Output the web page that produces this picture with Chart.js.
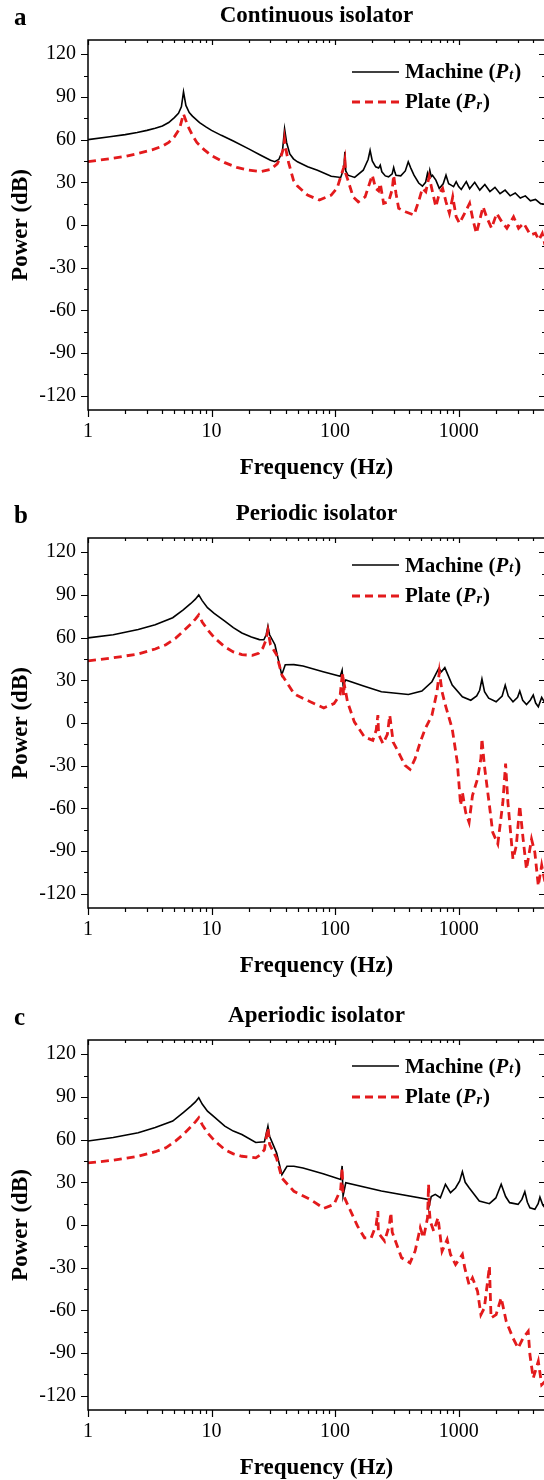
<!DOCTYPE html>
<html>
<head>
<meta charset="utf-8">
<script src="https://cdn.jsdelivr.net/npm/chart.js@4.4.1/dist/chart.umd.min.js"></script>
<style>
  body { margin: 0; background: #fff; width: 544px; height: 1480px; overflow: hidden; position: relative; font-family: "Liberation Serif", serif; }
  .panel { position: absolute; left: 0; width: 544px; height: 500px; overflow: hidden; }
  .panel canvas { position: absolute; left: 0; top: 0; }
  .letter { position: absolute; left: 14px; top: 4px; font: bold 25px/25px "Liberation Serif", serif; color: #000; }
  .key { position: absolute; left: 352px; height: 30px; display: flex; align-items: center; font: bold 21px "Liberation Serif", serif; color: #000; white-space: nowrap; }
  .key svg { margin-right: 6px; }
  .key i { font-style: italic; }
  .key sub { font-size: 14px; font-style: italic; position: relative; top: 3px; vertical-align: baseline; line-height: 0; margin-left: 1px; margin-right: 1px; }
</style>
</head>
<body>
<div class="panel" style="top:0px">
  <canvas id="chartA" width="552" height="498"></canvas>
  <div class="letter">a</div>
  <div class="key" style="top:56.5px"><svg width="47" height="30"><line x1="0" y1="15" x2="47" y2="15" stroke="#000" stroke-width="1.6"/></svg>Machine (<i>P</i><sub>t</sub>)</div>
  <div class="key" style="top:86.5px"><svg width="47" height="30"><line x1="0" y1="15" x2="47" y2="15" stroke="#e31a1c" stroke-width="2.8" stroke-dasharray="8 5"/></svg>Plate (<i>P</i><sub>r</sub>)</div>
</div>
<div class="panel" style="top:498px">
  <canvas id="chartB" width="552" height="498"></canvas>
  <div class="letter">b</div>
  <div class="key" style="top:52px"><svg width="47" height="30"><line x1="0" y1="15" x2="47" y2="15" stroke="#000" stroke-width="1.6"/></svg>Machine (<i>P</i><sub>t</sub>)</div>
  <div class="key" style="top:82.5px"><svg width="47" height="30"><line x1="0" y1="15" x2="47" y2="15" stroke="#e31a1c" stroke-width="2.8" stroke-dasharray="8 5"/></svg>Plate (<i>P</i><sub>r</sub>)</div>
</div>
<div class="panel" style="top:1000px">
  <canvas id="chartC" width="552" height="498"></canvas>
  <div class="letter">c</div>
  <div class="key" style="top:51px"><svg width="47" height="30"><line x1="0" y1="15" x2="47" y2="15" stroke="#000" stroke-width="1.6"/></svg>Machine (<i>P</i><sub>t</sub>)</div>
  <div class="key" style="top:81.5px"><svg width="47" height="30"><line x1="0" y1="15" x2="47" y2="15" stroke="#e31a1c" stroke-width="2.8" stroke-dasharray="8 5"/></svg>Plate (<i>P</i><sub>r</sub>)</div>
</div>
<script>
// axis ticks
const xTickValues = [1, 10, 100, 1000];
const yTickValues = [-120, -90, -60, -30, 0, 30, 60, 90, 120];

// a) continuous isolator
const continuousMachineHz = [1, 1.5, 2, 2.5, 3, 3.5, 4, 4.5, 5, 5.4, 5.7, 5.93, 6.2, 6.6, 7, 8, 9, 10, 12, 15, 20, 25, 30, 32.5, 35, 37.5, 39, 40.5, 43, 46, 49.6, 60, 72, 93, 111, 118, 120, 122, 127, 144, 169, 185, 192, 200, 213, 225, 232, 239, 255, 271, 290, 298, 305, 311, 340, 370, 391, 410, 435, 475, 509, 540, 559, 570, 584, 600, 614, 654, 697, 750, 790, 830, 869, 910, 955, 1000, 1050, 1153, 1227, 1349, 1482, 1630, 1791, 1968, 2163, 2377, 2612, 2870, 3154, 3467, 3810, 4188, 4603, 5000];
const continuousMachineDb = [60, 62, 63.5, 65, 66.5, 68, 69.6, 72, 75.5, 78.5, 83, 93.5, 84, 79, 76.5, 72, 69, 66.5, 63, 59, 53.5, 49, 45.5, 44.5, 46, 52, 67.5, 58, 50, 46.5, 44.4, 41, 38.5, 34.3, 33.4, 40, 51.4, 38, 35, 33.4, 38.5, 46, 52.5, 45, 40.9, 40, 42, 37.4, 34.5, 33.9, 36, 40.4, 37, 35, 34.5, 38, 44.4, 40, 35, 29.5, 27.3, 30, 36.2, 33, 38.5, 34, 35, 31.5, 25.7, 29, 35, 29, 28, 27, 30.4, 27, 25, 30.5, 25.5, 30, 24.5, 28.5, 23.5, 26.5, 22, 24.5, 20.5, 22.5, 19, 20.5, 17, 18, 15, 14.5];
const continuousPlateHz = [1, 1.5, 2, 2.55, 3.3, 4, 4.5, 5, 5.5, 5.93, 6.4, 7, 7.6, 8.7, 10, 12.8, 16, 20, 25, 30, 34, 36.5, 38.5, 39, 40, 42, 46, 49.6, 59.8, 74.6, 93, 104, 112, 117, 120, 122, 127, 140, 154, 175, 192, 200, 213, 225, 232, 247, 271, 290, 298, 311, 327, 371, 435, 478, 509, 542, 577, 614, 654, 697, 742, 790, 842, 896, 955, 1016, 1153, 1227, 1307, 1392, 1482, 1578, 1680, 1848, 2032, 2234, 2456, 2782, 3057, 3360, 3810, 4188, 4460, 4750, 5000];
const continuousPlateDb = [44.5, 46.5, 48.2, 50.3, 52.8, 55.4, 58, 62, 67.5, 78, 70, 63, 58, 53, 48.8, 43.8, 40.5, 38.5, 37.5, 39, 43, 48, 55, 60, 53, 44, 31.5, 27.3, 21, 17.5, 21, 26, 35, 40, 45.5, 36, 31.5, 19.8, 16.3, 19.8, 30.4, 35, 25.7, 24, 29.2, 15.2, 16.3, 25, 35, 22.2, 11.7, 9.3, 7, 17.5, 25.7, 23.4, 33.9, 23.4, 12.8, 22.2, 25.7, 16.3, 8.2, 19.8, 5.8, 1.2, 10.5, 15.2, 3.5, -5.8, 3.5, 12.8, 5.8, -2.3, 8.2, 2.3, -2.3, 5.8, -2.3, 1.2, -7, -5.8, -10.5, -6, -14];

// b) periodic isolator
const periodicMachineHz = [1, 1.6, 2.55, 3.5, 4.85, 5.9, 6.8, 7.4, 7.88, 8.4, 9.27, 10.5, 12.8, 15, 17.6, 21, 24.4, 26.5, 27.7, 28.6, 29.5, 32.6, 37, 39.5, 46.4, 55, 80, 110, 114, 116, 122, 170, 237, 392, 504, 608, 690, 726, 773, 887, 1072, 1254, 1400, 1480, 1544, 1620, 1750, 2011, 2250, 2382, 2520, 2754, 3000, 3125, 3300, 3542, 3800, 4017, 4200, 4414, 4700, 5000];
const periodicMachineDb = [59.8, 62, 65.7, 69, 74, 79.5, 84, 87, 90, 86, 81, 77, 71.6, 67, 63.3, 60.5, 58.6, 58.5, 62, 68, 62, 55, 33.8, 40.9, 41, 40, 36, 32.8, 37, 27, 30.2, 26, 22, 20, 22.4, 29, 38.4, 36, 38.9, 26.6, 18.4, 16, 19, 23, 30.9, 22, 17.5, 14.9, 19, 26.6, 19, 14.9, 18, 22.4, 16, 13, 16, 19.6, 14, 11.4, 18, 14];
const periodicPlateHz = [1, 1.6, 2.55, 3.5, 4.27, 5.1, 5.9, 6.8, 7.4, 7.88, 8.4, 9.27, 10.5, 12.8, 15, 17.6, 21.4, 24, 26, 27.5, 28.6, 30, 33.6, 37.1, 46.4, 49, 63, 81, 98, 110, 115, 117, 119, 126, 143, 173, 202, 215, 222, 225, 244, 265, 277, 290, 295, 325, 368, 404, 444, 489, 537, 608, 668, 698, 734, 781, 887, 975, 1038, 1072, 1140, 1215, 1294, 1422, 1514, 1544, 1615, 1775, 1888, 2075, 2280, 2399, 2505, 2752, 2929, 3123, 3326, 3540, 3890, 4140, 4414, 4700, 5000];
const periodicPlateDb = [43.7, 45.8, 48.5, 52, 55, 59.5, 64.5, 69.5, 73, 76, 71, 65.7, 60, 53.5, 50, 48, 47.5, 49, 52.7, 58, 65, 55, 48, 33.8, 20.8, 19.5, 14.9, 10.6, 13.7, 20, 36, 19.6, 26.6, 14.9, 0.8, -9.8, -12.2, -5, 5.5, -8, -14.5, -8, 5.5, -8, -13.4, -20.4, -29.8, -32.6, -25.1, -13.4, -4, 5.5, 22, 36, 22, 12.5, -4, -27.5, -58, -48.6, -62.8, -69.8, -51, -39.2, -25, -11, -29.8, -58, -76.9, -85, -55.7, -28.6, -55.7, -95.7, -86.3, -58, -81.6, -102.8, -81.6, -91, -114.5, -100, -112];

// c) aperiodic isolator
const aperiodicMachineHz = [1, 1.6, 2.55, 3.5, 4.85, 5.9, 6.8, 7.4, 7.88, 8.4, 9.27, 10.5, 12.8, 15, 17.6, 22.8, 26.8, 28.6, 29.5, 33.6, 37.1, 40.8, 46.4, 55, 80, 111, 114, 116, 122, 237, 571, 575, 600, 647, 711, 782, 859, 944, 1020, 1072, 1130, 1215, 1469, 1775, 2000, 2210, 2400, 2586, 3028, 3250, 3433, 3600, 3776, 4140, 4400, 4550, 4800, 5000];
const aperiodicMachineDb = [59, 61.5, 64.8, 68.5, 73, 79, 83.5, 86.5, 89.5, 85, 80, 76, 69.5, 66, 63.6, 58, 58.5, 69.5, 62.4, 50.7, 35.4, 41.3, 41.3, 40, 36, 32, 41.5, 20.4, 29.7, 23.9, 18, 13, 20, 21.5, 19.2, 28.6, 22.7, 26, 31, 37.5, 30, 26.2, 16.8, 15, 19, 28.6, 20, 15.7, 14.5, 18, 23.4, 16, 12.1, 11, 15, 19.6, 14, 12.1];
const aperiodicPlateHz = [1, 1.6, 2.55, 3.5, 4.27, 5.1, 5.9, 6.8, 7.4, 7.88, 8.4, 9.27, 10.5, 12.8, 15, 17.6, 22.8, 25, 26.8, 28.6, 29.5, 33.6, 37.1, 46.4, 49, 63, 81, 98, 111, 114, 116, 126, 152, 173, 196, 215, 222, 224, 252, 275, 283, 290, 305, 345, 404, 444, 489, 520, 560, 571, 580, 589, 628, 681, 734, 807, 859, 944, 1072, 1120, 1215, 1294, 1422, 1514, 1615, 1775, 1829, 2011, 2210, 2427, 2752, 3028, 3326, 3656, 3776, 4017, 4414, 4700, 5000];
const aperiodicPlateDb = [43.6, 45.5, 48.3, 51.5, 54.2, 59, 63.6, 69, 72.5, 75.4, 70.5, 64.8, 59.5, 53, 50, 48.3, 47.2, 49.5, 53, 68.3, 56.6, 47, 33, 23.7, 22.7, 18, 11.7, 14.5, 25, 40, 21.5, 14.5, -0.8, -9, -9, 0, 9.8, -5.5, -11.3, 0, 8.6, -5, -10.2, -23, -26.6, -18.4, -2, -9, 5, 28.6, 10, 2.7, -4.3, 5.1, -18.4, -10.2, -20.7, -27.8, -20.7, -30, -41.9, -37.2, -46.5, -63, -58.3, -29, -65.3, -63, -51.2, -67.7, -79.4, -86.5, -79.4, -74.7, -91.2, -107.6, -95.8, -112.3, -110];

const SERIF = '"Liberation Serif", serif';
const RED = '#e31a1c';

const toXY = (xs, ys) => xs.map((x, i) => ({ x: x, y: ys[i] }));

// frame on all four sides; ticks out on left/bottom, in on top/right
const frameTicks = {
    id: 'frameTicks',
    afterDraw(chart) {
        const { ctx, chartArea: a, scales: { x, y } } = chart;
        ctx.save();
        ctx.strokeStyle = '#000';
        ctx.lineWidth = 1.5;
        ctx.strokeRect(a.left, a.top, a.right - a.left, a.bottom - a.top);

        ctx.lineWidth = 1.2;
        ctx.beginPath();
        for (const decade of xTickValues) {
            for (let m = 1; m <= 9; m++) {
                const v = m * decade;
                if (v > x.max) break;
                const px = Math.round(x.getPixelForValue(v)) + 0.5;
                const major = m === 1;
                ctx.moveTo(px, a.bottom);
                ctx.lineTo(px, a.bottom + (major ? 7 : 4));
                ctx.moveTo(px, a.top);
                ctx.lineTo(px, a.top + (major ? 5 : 3));
            }
        }
        for (let v = -120; v <= 120; v += 15) {
            const py = Math.round(y.getPixelForValue(v)) + 0.5;
            const major = v % 30 === 0;
            ctx.moveTo(a.left, py);
            ctx.lineTo(a.left - (major ? 7 : 4), py);
            ctx.moveTo(a.right, py);
            ctx.lineTo(a.right - (major ? 6 : 3), py);
        }
        ctx.stroke();
        ctx.restore();
    }
};

function makeChart(id, title, machineHz, machineDb, plateHz, plateDb) {
    return new Chart(document.getElementById(id), {
        type: 'line',
        data: {
            datasets: [
                {
                    label: 'Plate',
                    data: toXY(plateHz, plateDb),
                    borderColor: RED,
                    borderWidth: 2.8,
                    borderDash: [8, 5],
                    pointRadius: 0,
                    tension: 0,
                    fill: false
                },
                {
                    label: 'Machine',
                    data: toXY(machineHz, machineDb),
                    borderColor: '#000',
                    borderWidth: 1.6,
                    pointRadius: 0,
                    tension: 0,
                    fill: false
                }
            ]
        },
        options: {
            responsive: false,
            animation: false,
            layout: { padding: { left: 0, right: 7, top: 0, bottom: 0 } },
            plugins: {
                legend: { display: false },
                tooltip: { enabled: false },
                title: {
                    display: true,
                    text: title,
                    fullSize: false,
                    color: '#000',
                    font: { family: SERIF, size: 23, weight: 'bold' },
                    padding: { top: 2, bottom: 10.4 }
                }
            },
            scales: {
                x: {
                    type: 'logarithmic',
                    min: 1,
                    max: 5000,
                    afterBuildTicks: s => { s.ticks = xTickValues.map(v => ({ value: v })); },
                    afterFit: s => { s.height = 88; },
                    grid: { display: false, drawTicks: false },
                    border: { display: false },
                    ticks: {
                        color: '#000',
                        font: { family: SERIF, size: 20 },
                        padding: 10,
                        maxRotation: 0,
                        autoSkip: false,
                        callback: v => String(v)
                    },
                    title: {
                        display: true,
                        text: 'Frequency (Hz)',
                        color: '#000',
                        font: { family: SERIF, size: 23, weight: 'bold' },
                        padding: { top: 0, bottom: 16 }
                    }
                },
                y: {
                    min: -130,
                    max: 130,
                    afterBuildTicks: s => { s.ticks = yTickValues.map(v => ({ value: v })); },
                    afterFit: s => { s.width = 88; },
                    grid: { display: false, drawTicks: false },
                    border: { display: false },
                    ticks: {
                        color: '#000',
                        font: { family: SERIF, size: 20 },
                        padding: 12,
                        callback: v => String(v)
                    },
                    title: {
                        display: true,
                        text: 'Power (dB)',
                        color: '#000',
                        font: { family: SERIF, size: 23, weight: 'bold' },
                        padding: { top: 7, bottom: 0 }
                    }
                }
            }
        },
        plugins: [frameTicks]
    });
}

makeChart('chartA', 'Continuous isolator', continuousMachineHz, continuousMachineDb, continuousPlateHz, continuousPlateDb);
makeChart('chartB', 'Periodic isolator', periodicMachineHz, periodicMachineDb, periodicPlateHz, periodicPlateDb);
makeChart('chartC', 'Aperiodic isolator', aperiodicMachineHz, aperiodicMachineDb, aperiodicPlateHz, aperiodicPlateDb);
</script>
</body>
</html>
